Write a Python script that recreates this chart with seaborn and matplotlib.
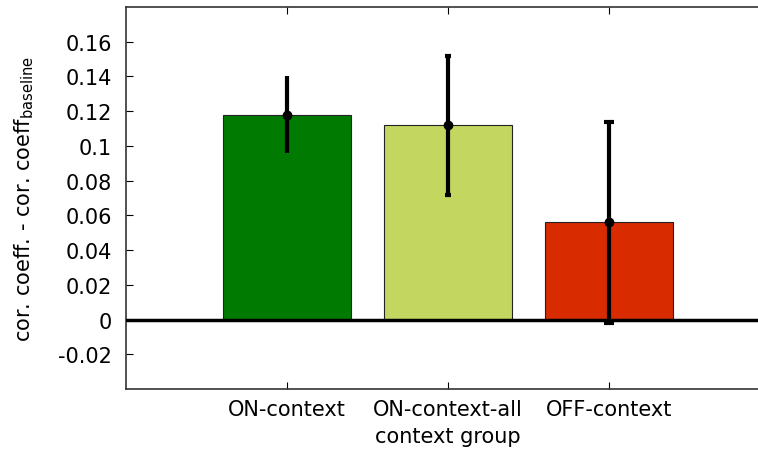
import matplotlib
matplotlib.use("Agg")
import matplotlib.pyplot as plt
import seaborn as sns
import pandas as pd

categories = ["ON-context", "ON-context-all", "OFF-context"]
means = [0.118, 0.112, 0.056]
err_low = [0.096, 0.072, -0.002]
err_high = [0.140, 0.152, 0.114]
colors = ["#007a00", "#c3d660", "#d92b00"]
ytick_values = [-0.02, 0, 0.02, 0.04, 0.06, 0.08, 0.1, 0.12, 0.14, 0.16]
ytick_labels = ["-0.02", "0", "0.02", "0.04", "0.06", "0.08", "0.1", "0.12", "0.14", "0.16"]

sns.set_style("white")
plt.rcParams["font.family"] = ["DejaVu Sans"]
plt.rcParams["mathtext.fontset"] = "dejavusans"
plt.rcParams["text.color"] = "black"
plt.rcParams["axes.labelcolor"] = "black"
plt.rcParams["xtick.color"] = "black"
plt.rcParams["ytick.color"] = "black"

df = pd.DataFrame({"group": categories, "value": means})

fig = plt.figure(figsize=(7.58, 4.52), dpi=100)
ax = fig.add_axes([126 / 758, 1 - 390 / 452, 644 / 758, 382 / 452])

sns.barplot(data=df, x="group", y="value", hue="group", palette=colors,
            legend=False, width=0.8, edgecolor="#222222", linewidth=0.8,
            saturation=1, errorbar=None, ax=ax, zorder=2)

ax.axhline(0, color="black", lw=2.5, zorder=3)

lower = [m - lo for m, lo in zip(means, err_low)]
upper = [hi - m for m, hi in zip(means, err_high)]
caps = [0, 2.5, 3.3]
for i in range(len(categories)):
    ax.errorbar([i], [means[i]], yerr=[[lower[i]], [upper[i]]], fmt="o",
                color="black", ms=6, elinewidth=3, capsize=caps[i],
                capthick=3, zorder=4)

ax.set_xlim(-1, 3)
ax.set_ylim(-0.04, 0.18)
ax.set_yticks(ytick_values)
ax.set_yticklabels(ytick_labels, fontsize=15)
ax.set_xticks([0, 1, 2])
ax.set_xticklabels(categories, fontsize=15)
ax.set_xlabel("context group", fontsize=15, labelpad=5)
ax.set_ylabel(r"cor. coeff. - cor. coeff$_{\mathregular{baseline}}$", fontsize=15, labelpad=16)

ax.tick_params(axis="y", direction="in", length=5, width=0.8,
               left=True, right=True, pad=10)
ax.tick_params(axis="x", direction="in", length=5, width=0.8,
               top=True, bottom=True, pad=7)
for s in ax.spines.values():
    s.set_visible(True)
    s.set_color("#333333")
    s.set_linewidth(1.2)

fig.savefig("out.png", dpi=100)
